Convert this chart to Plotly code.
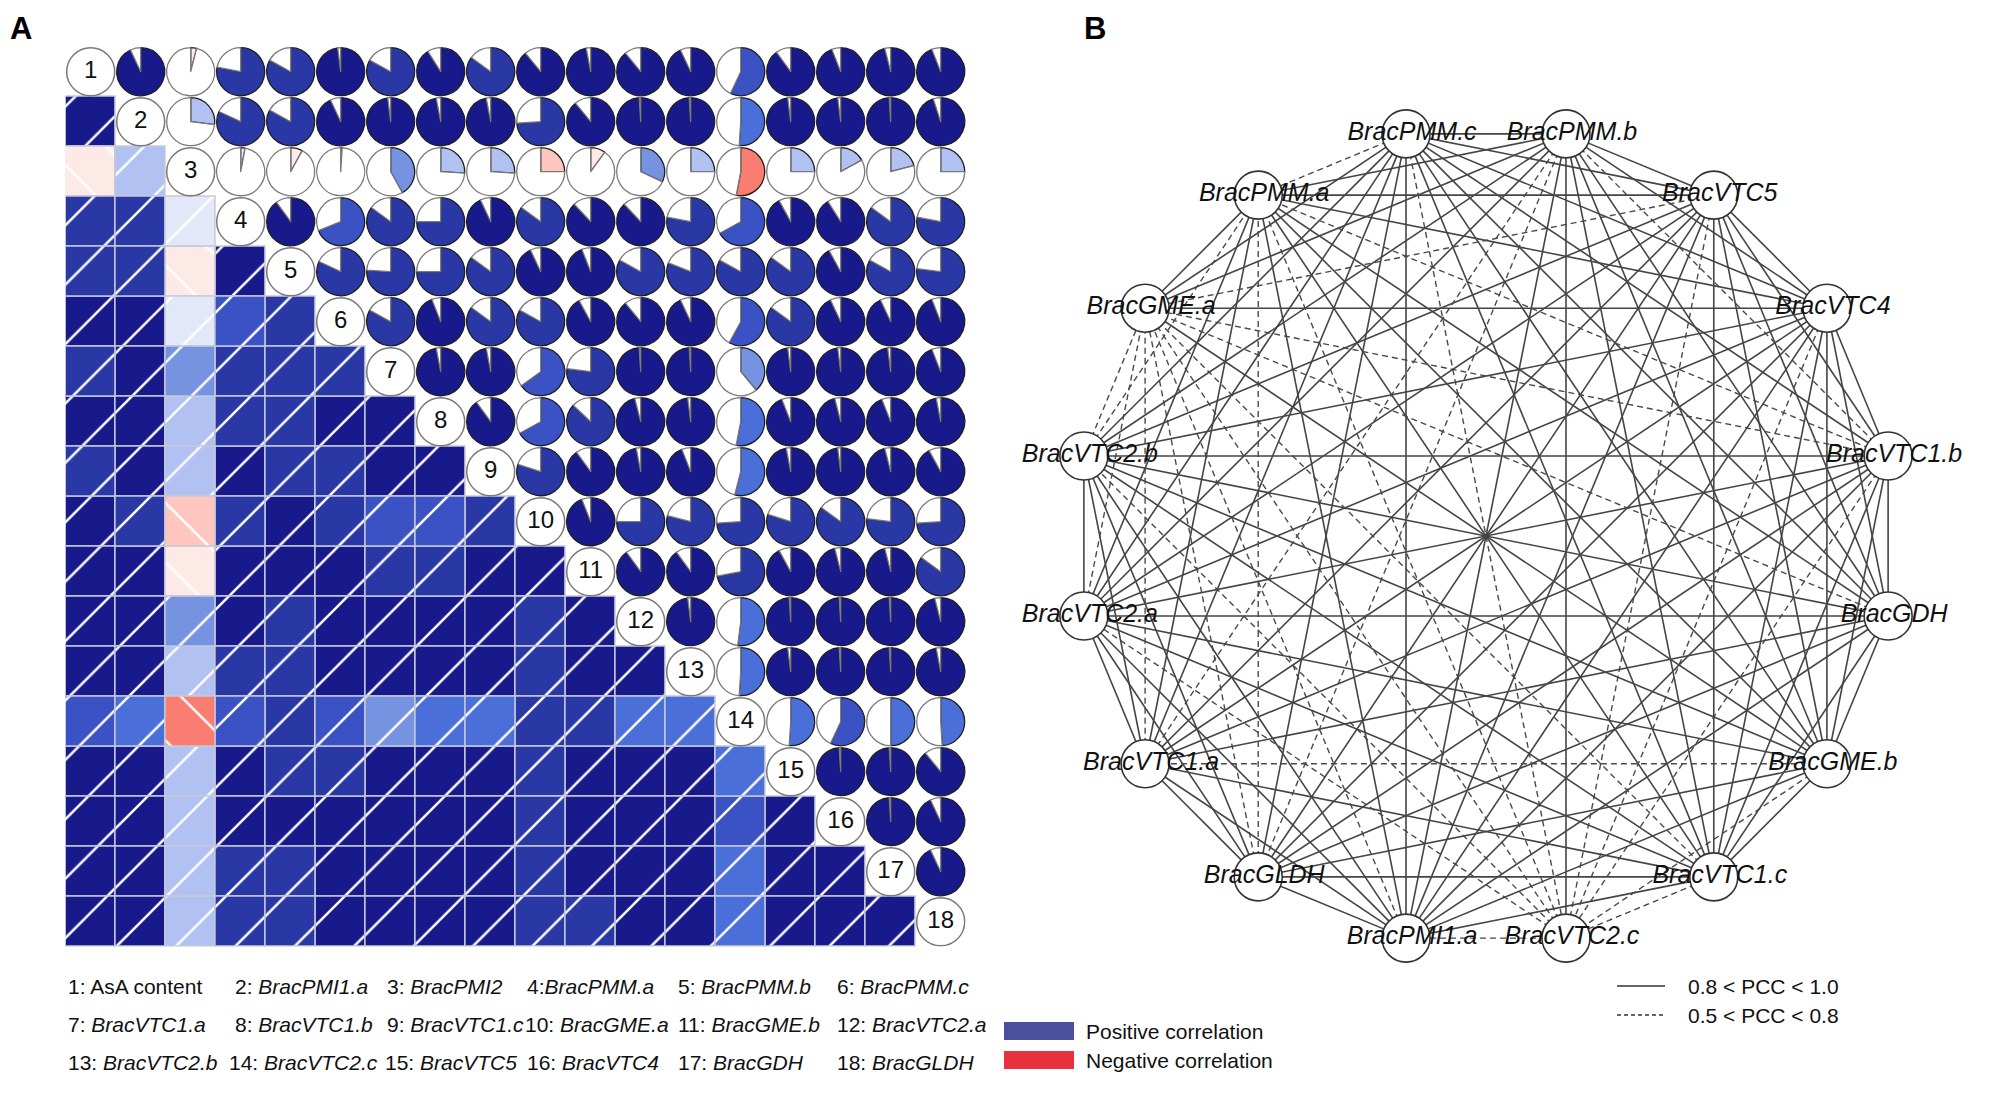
import math
import plotly.graph_objects as go

# ---------------- data ----------------
labels = ["AsA content", "BracPMI1.a", "BracPMI2", "BracPMM.a", "BracPMM.b", "BracPMM.c",
          "BracVTC1.a", "BracVTC1.b", "BracVTC1.c", "BracGME.a", "BracGME.b", "BracVTC2.a",
          "BracVTC2.b", "BracVTC2.c", "BracVTC5", "BracVTC4", "BracGDH", "BracGLDH"]

# upper-triangle PCC values, row i holds r(i, j) for j > i
pcc_r01 = [0.93, -0.04, 0.78, 0.83, 0.98, 0.83, 0.91, 0.85, 0.89, 0.97, 0.89, 0.93, 0.57, 0.90, 0.94, 0.96, 0.94]
pcc_r02 = [0.27, 0.82, 0.83, 0.93, 0.98, 0.97, 0.97, 0.74, 0.89, 0.99, 0.99, 0.51, 0.98, 0.98, 0.99, 0.95]
pcc_r03 = [0.03, -0.08, 0.01, 0.42, 0.26, 0.26, -0.25, -0.10, 0.32, 0.25, -0.53, 0.25, 0.17, 0.21, 0.25]
pcc_r04 = [0.90, 0.69, 0.85, 0.75, 0.93, 0.85, 0.88, 0.88, 0.78, 0.67, 0.92, 0.91, 0.85, 0.78]
pcc_r05 = [0.82, 0.76, 0.75, 0.85, 0.93, 0.94, 0.83, 0.81, 0.83, 0.85, 0.92, 0.83, 0.77]
pcc_r06 = [0.83, 0.94, 0.85, 0.83, 0.92, 0.89, 0.93, 0.58, 0.85, 0.93, 0.93, 0.94]
pcc_r07 = [0.97, 0.97, 0.65, 0.77, 0.99, 0.99, 0.39, 0.98, 0.98, 0.98, 0.94]
pcc_r08 = [0.90, 0.67, 0.87, 0.96, 0.98, 0.53, 0.94, 0.96, 0.94, 0.97]
pcc_r09 = [0.80, 0.90, 0.97, 0.94, 0.54, 0.97, 0.98, 0.96, 0.92]
pcc_r10 = [0.94, 0.75, 0.79, 0.74, 0.80, 0.85, 0.77, 0.74]
pcc_r11 = [0.90, 0.90, 0.72, 0.92, 0.96, 0.96, 0.85]
pcc_r12 = [0.98, 0.52, 0.99, 0.99, 0.99, 0.96]
pcc_r13 = [0.51, 0.98, 0.99, 0.99, 0.97]
pcc_r14 = [0.51, 0.57, 0.50, 0.49]
pcc_r15 = [0.99, 0.99, 0.89]
pcc_r16 = [0.99, 0.93]
pcc_r17 = [0.93]
upper_rows = [pcc_r01, pcc_r02, pcc_r03, pcc_r04, pcc_r05, pcc_r06, pcc_r07, pcc_r08, pcc_r09,
              pcc_r10, pcc_r11, pcc_r12, pcc_r13, pcc_r14, pcc_r15, pcc_r16, pcc_r17]

# gene order around the network circle (clockwise from top-left)
network_order = ["BracPMM.c", "BracPMM.b", "BracVTC5", "BracVTC4", "BracVTC1.b", "BracGDH",
                 "BracGME.b", "BracVTC1.c", "BracVTC2.c", "BracPMI1.a", "BracGLDH", "BracVTC1.a",
                 "BracVTC2.a", "BracVTC2.b", "BracGME.a", "BracPMM.a"]
strong_cut = 0.8
weak_cut = 0.5

legend_items = ["1: AsA content", "2: <i>BracPMI1.a</i>", "3: <i>BracPMI2</i>", "4:<i>BracPMM.a</i>",
                "5: <i>BracPMM.b</i>", "6: <i>BracPMM.c</i>",
                "7: <i>BracVTC1.a</i>", "8: <i>BracVTC1.b</i>", "9: <i>BracVTC1.c</i>",
                "10: <i>BracGME.a</i>", "11: <i>BracGME.b</i>", "12: <i>BracVTC2.a</i>",
                "13: <i>BracVTC2.b</i>", "14: <i>BracVTC2.c</i>", "15: <i>BracVTC5</i>",
                "16: <i>BracVTC4</i>", "17: <i>BracGDH</i>", "18: <i>BracGLDH</i>"]

# ---------------- styling / layout ----------------
W, H = 2000, 1110
FONT = "Liberation Sans, Arial, sans-serif"
MX0, MY0, CELL = 65.7, 46.7, 50.0
N = len(labels)

pos_edges = [0.1, 0.3, 0.45, 0.56, 0.71, 0.88]
pos_cols = ["#e3e8f8", "#b1c1f1", "#7693e2", "#4b6fd9", "#3b52c4", "#2a38a6", "#18198b"]
neg_edges = [-0.15, -0.4]
neg_cols = ["#fde9e6", "#fec6bf", "#f97e71"]


def colour(v):
    if v >= 0:
        return pos_cols[sum(v >= e for e in pos_edges)]
    return neg_cols[sum(v <= e for e in neg_edges)]


def fx(px):
    return px / W


def fy(py):
    return 1 - py / H


M = [[1.0] * N for _ in range(N)]
for i, row in enumerate(upper_rows):
    for k, v in enumerate(row):
        j = i + 1 + k
        M[i][j] = v
        M[j][i] = v

fig = go.Figure()

# ---- lower triangle: hatched squares (one trace per colour so the hatch stays white) ----
groups = {}
for i in range(N):
    for j in range(i):
        v = M[i][j]
        key = (colour(v), "/" if v >= 0 else "\\")
        groups.setdefault(key, ([], []))
        groups[key][0].append(j + 1)
        groups[key][1].append(i + 0.5)
for (col, shp), (gx, gbase) in groups.items():
    fig.add_trace(go.Bar(
        x=gx, y=[1] * len(gx), base=gbase, width=1.0,
        marker=dict(color=col, line=dict(color="#c6c9d6", width=1.5),
                    pattern=dict(shape=shp, fgcolor="white", fgopacity=1.0, bgcolor=col, size=42,
                                 solidity=0.06, fillmode="overlay")),
        hoverinfo="skip", showlegend=False, xaxis="x", yaxis="y"))

# ---- diagonal numbered circles ----
fig.add_trace(go.Scatter(
    x=list(range(1, N + 1)), y=list(range(1, N + 1)), mode="markers+text",
    marker=dict(size=48, color="white", line=dict(color="#7a7a7a", width=1.5)),
    text=[str(k) for k in range(1, N + 1)], textposition="middle center",
    textfont=dict(family=FONT, size=24, color="#111111"),
    hoverinfo="skip", showlegend=False, xaxis="x", yaxis="y"))

# ---- upper triangle pies ----
for i in range(N):
    for j in range(i + 1, N):
        v = M[i][j]
        a = abs(v)
        fig.add_trace(go.Pie(
            values=[a, 1 - a], sort=False, rotation=0,
            direction="clockwise" if v >= 0 else "counterclockwise",
            marker=dict(colors=[colour(v), "white"],
                        line=dict(color=["#1e1e1e", "#7a7a7a"], width=1.3)),
            textinfo="none", hoverinfo="skip", showlegend=False,
            domain=dict(x=[fx(MX0 + j * CELL + 1), fx(MX0 + (j + 1) * CELL - 1)],
                        y=[fy(MY0 + (i + 1) * CELL - 1), fy(MY0 + i * CELL + 1)])))

# ---- network ----
CX, CY, R = 1486.0, 536.0, 410.0
LABEL_DX = 6.0
idx = {name: k for k, name in enumerate(labels)}
nodes = [idx[g] for g in network_order]
pos = {}
for k, m in enumerate(nodes):
    th = math.radians(-11.25 + 22.5 * k)
    pos[m] = (CX + R * math.sin(th), CY - R * math.cos(th))

sx, sy, dx, dy = [], [], [], []
for a_ in range(len(nodes)):
    for b_ in range(a_ + 1, len(nodes)):
        p, q = nodes[a_], nodes[b_]
        v = M[p][q]
        if v > strong_cut:
            sx += [pos[p][0], pos[q][0], None]
            sy += [pos[p][1], pos[q][1], None]
        elif v > weak_cut:
            dx += [pos[p][0], pos[q][0], None]
            dy += [pos[p][1], pos[q][1], None]

fig.add_trace(go.Scatter(x=dx, y=dy, mode="lines", line=dict(color="#4a4a4a", width=1.4, dash="6px,4px"),
                         hoverinfo="skip", showlegend=False, xaxis="x2", yaxis="y2"))
fig.add_trace(go.Scatter(x=sx, y=sy, mode="lines", line=dict(color="#454545", width=1.6),
                         hoverinfo="skip", showlegend=False, xaxis="x2", yaxis="y2"))
fig.add_trace(go.Scatter(
    x=[pos[m][0] for m in nodes], y=[pos[m][1] for m in nodes], mode="markers",
    marker=dict(size=48, color="white", line=dict(color="#333333", width=1.6)),
    hoverinfo="skip", showlegend=False, xaxis="x2", yaxis="y2"))
fig.add_trace(go.Scatter(
    x=[pos[m][0] + LABEL_DX for m in nodes], y=[pos[m][1] for m in nodes], mode="text",
    text=["<i>%s</i>" % labels[m] for m in nodes], textposition="middle center",
    textfont=dict(family=FONT, size=25, color="#111111"),
    hoverinfo="skip", showlegend=False, xaxis="x2", yaxis="y2"))

# ---------------- annotations ----------------
ann = []
legend_x = [[66, 233, 385, 525, 676, 835], [66, 233, 385, 523, 676, 835], [66, 227, 383, 525, 676, 835]]
legend_y = [986, 1024, 1062]
for r in range(3):
    for c in range(6):
        ann.append(dict(x=fx(legend_x[r][c]), y=fy(legend_y[r]), xref="paper", yref="paper",
                        text=legend_items[r * 6 + c], showarrow=False, xanchor="left", yanchor="middle",
                        font=dict(family=FONT, size=21, color="#111111")))

ann.append(dict(x=fx(1084), y=fy(1031), xref="paper", yref="paper", text="Positive correlation",
                showarrow=False, xanchor="left", yanchor="middle", font=dict(family=FONT, size=21, color="#111")))
ann.append(dict(x=fx(1084), y=fy(1060), xref="paper", yref="paper", text="Negative correlation",
                showarrow=False, xanchor="left", yanchor="middle", font=dict(family=FONT, size=21, color="#111")))
ann.append(dict(x=fx(1686), y=fy(986), xref="paper", yref="paper", text="0.8 < PCC < 1.0",
                showarrow=False, xanchor="left", yanchor="middle", font=dict(family=FONT, size=21, color="#111")))
ann.append(dict(x=fx(1686), y=fy(1015), xref="paper", yref="paper", text="0.5 < PCC < 0.8",
                showarrow=False, xanchor="left", yanchor="middle", font=dict(family=FONT, size=21, color="#111")))
ann.append(dict(x=fx(8), y=fy(29), xref="paper", yref="paper", text="<b>A</b>",
                showarrow=False, xanchor="left", yanchor="middle", font=dict(family=FONT, size=31, color="#000")))
ann.append(dict(x=fx(1082), y=fy(29), xref="paper", yref="paper", text="<b>B</b>",
                showarrow=False, xanchor="left", yanchor="middle", font=dict(family=FONT, size=31, color="#000")))

shapes = [
    dict(type="rect", xref="paper", yref="paper", x0=fx(1004), x1=fx(1074), y0=fy(1040), y1=fy(1022),
         fillcolor="#4a4f9e", line=dict(width=0)),
    dict(type="rect", xref="paper", yref="paper", x0=fx(1004), x1=fx(1074), y0=fy(1069), y1=fy(1051),
         fillcolor="#e8323e", line=dict(width=0)),
    dict(type="line", xref="paper", yref="paper", x0=fx(1617), x1=fx(1665), y0=fy(986), y1=fy(986),
         line=dict(color="#333", width=1.5)),
    dict(type="line", xref="paper", yref="paper", x0=fx(1617), x1=fx(1665), y0=fy(1015), y1=fy(1015),
         line=dict(color="#333", width=1.5, dash="4px,3px")),
]

fig.update_layout(
    width=W, height=H, margin=dict(l=0, r=0, t=0, b=0),
    paper_bgcolor="white", plot_bgcolor="rgba(0,0,0,0)", showlegend=False,
    barmode="overlay", bargap=0,
    xaxis=dict(domain=[fx(MX0), fx(MX0 + N * CELL)], range=[0.5, N + 0.5], visible=False, fixedrange=True),
    yaxis=dict(domain=[fy(MY0 + N * CELL), fy(MY0)], range=[N + 0.5, 0.5], visible=False, fixedrange=True),
    xaxis2=dict(domain=[0.5, 1.0], range=[1000, 2000], visible=False, fixedrange=True),
    yaxis2=dict(domain=[0.0, 1.0], range=[H, 0], visible=False, fixedrange=True),
    annotations=ann, shapes=shapes,
    font=dict(family=FONT),
)

fig.write_html("out.html", config={"displayModeBar": False},
               post_script="document.body.style.margin='0';document.body.style.overflow='hidden';")
